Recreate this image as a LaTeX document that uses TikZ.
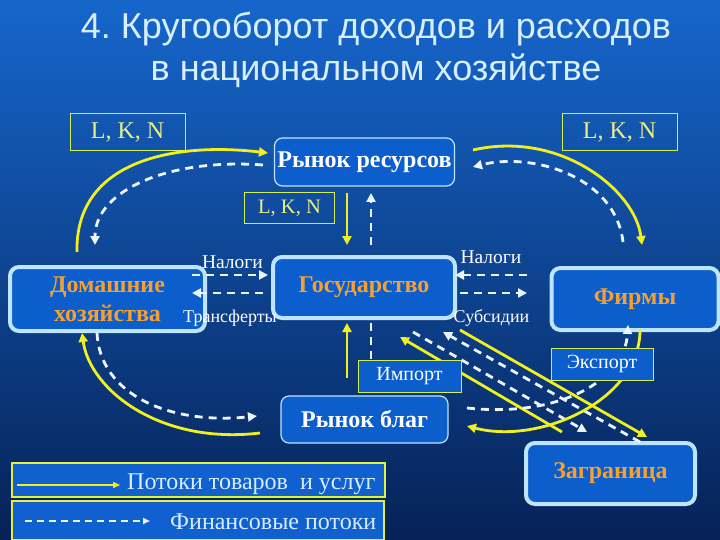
\documentclass[tikz,border=0pt]{standalone}
\usepackage{fontspec}
\setmainfont{Liberation Serif}
\newfontfamily\titlefont{Liberation Sans}
\usetikzlibrary{arrows.meta,calc}
\definecolor{bgtop}{RGB}{22,102,204}
\definecolor{bgmid}{RGB}{12,72,168}
\definecolor{bgbot}{RGB}{6,34,86}
\definecolor{boxfill}{RGB}{12,94,204}
\definecolor{rimcol}{RGB}{190,228,255}
\definecolor{tagline}{RGB}{210,240,80}
\definecolor{flowy}{RGB}{240,240,30}
\definecolor{flowd}{RGB}{235,245,255}
\definecolor{orangetxt}{RGB}{245,160,50}
\definecolor{lkntxt}{RGB}{235,240,130}
\definecolor{titletxt}{RGB}{215,238,255}
\definecolor{legfill}{RGB}{16,96,208}
\definecolor{legline}{RGB}{230,240,60}
\begin{document}
\begin{tikzpicture}[x=1pt,y=-1pt,
  bigbox/.style={draw=rimcol, line width=4pt, fill=boxfill, rounded corners=9pt, inner sep=0pt, outer sep=0pt, align=center, font=\fontsize{24}{29}\selectfont\bfseries, text=orangetxt},
  thinbox/.style={draw=rimcol, line width=1.2pt, fill=boxfill, rounded corners=8pt, inner sep=0pt, outer sep=0pt, font=\fontsize{24}{28}\selectfont\bfseries, text=white},
  tagbox/.style={draw=tagline, line width=1pt, inner sep=0pt, outer sep=0pt, text=lkntxt},
  tradebox/.style={draw=tagline, line width=1pt, fill=boxfill, inner sep=0pt, outer sep=0pt, text=white, font=\fontsize{20}{24}\selectfont},
  flowlabel/.style={text=white, font=\fontsize{18}{22}\selectfont, anchor=base, inner sep=0pt},
  goods/.style={draw=flowy, line width=2.8pt, -{Triangle[length=9pt,width=9pt]}},
  money/.style={draw=flowd, line width=2.8pt, dash pattern=on 8pt off 6pt, -{Triangle[length=9pt,width=9pt]}},
  legbox/.style={draw=legline, line width=2pt, fill=legfill, inner sep=0pt, outer sep=0pt},
  legtext/.style={text=titletxt, font=\fontsize{24}{28}\selectfont, anchor=base west, inner sep=0pt},
  titletext/.style={text=titletxt, font=\titlefont\fontsize{36}{40}\selectfont, anchor=base, inner sep=0pt}
]
\useasboundingbox (0,0) rectangle (720,540);
\shade[top color=bgtop, middle color=bgmid, bottom color=bgbot] (0,0) rectangle (720,540);

% title
\node[titletext] (title1) at (376,39) {4.\ Кругооборот доходов и расходов};
\node[titletext] (title2) at (376,81) {в национальном хозяйстве};

% main boxes
\node[bigbox, minimum width=195pt, minimum height=64pt] (hh) at (107.5,299) {Домашние\\хозяйства};
\node[bigbox, minimum width=182pt, minimum height=61pt] (gov) at (364,287.5) {Государство};
\node[bigbox, minimum width=167pt, minimum height=62pt] (firms) at (635,299) {Фирмы};
\node[bigbox, minimum width=169pt, minimum height=61pt] (abroad) at (610.5,473.5) {Заграница};
\node[thinbox, minimum width=180pt, minimum height=48pt] (rr) at (364.5,162) {Рынок ресурсов};
\node[thinbox, minimum width=167pt, minimum height=47pt] (rb) at (364.5,419.5) {Рынок благ};

% L, K, N tags
\node[tagbox, minimum width=115pt, minimum height=37pt, font=\fontsize{24}{28}\selectfont] (lknA) at (127.5,132.5) {L, K, N};
\node[tagbox, minimum width=115pt, minimum height=37pt, font=\fontsize{24}{28}\selectfont] (lknB) at (619.5,132.5) {L, K, N};
\node[tagbox, minimum width=90pt, minimum height=31pt, font=\fontsize{20.5}{24}\selectfont] (lknC) at (289.5,208.5) {L, K, N};

% households <-> resource market
\draw[goods] ([shift={(-30.5,-15)}]hh.north) .. controls +(-2,-92) and +(-93,-11) .. ([shift={(-6.5,-9)}]rr.west);
\draw[money] ([shift={(-11.5,3)}]rr.west) .. controls +(-93,-7) and +(0,-55) .. ([shift={(-12.5,-22)}]hh.north);
% resource market <-> firms
\draw[goods] ([shift={(18.5,-12)}]rr.east) .. controls +(87,-20) and +(-7,-55) .. ([shift={(7,-23)}]firms.north);
\draw[money] ([shift={(-12,-26)}]firms.north) .. controls +(-8,-67) and +(57,-15) .. ([shift={(18.5,5)}]rr.east);
% resource market <-> government
\draw[goods] ([shift={(-17.5,7)}]rr.south) -- ([shift={(-17,-12)}]gov.north);
\draw[money] ([shift={(7,-12)}]gov.north) -- ([shift={(6.5,7)}]rr.south);
% goods market <-> government
\draw[goods] ([shift={(-17.5,-18)}]rb.north) -- ([shift={(-17,5)}]gov.south);
\draw[money, -] ([shift={(7,5)}]gov.south) -- ([shift={(7,42)}]gov.south);
% taxes / transfers
\draw[money] ([shift={(-13,-24)}]hh.east) -- ([shift={(-5,-12.5)}]gov.west);
\draw[money] ([shift={(-10,5.5)}]gov.west) -- ([shift={(-13,-6)}]hh.east);
\draw[money] ([shift={(-24.5,-24)}]firms.west) -- ([shift={(0,-12.5)}]gov.east);
\draw[money] ([shift={(5,5.5)}]gov.east) -- ([shift={(-24.5,-6)}]firms.west);
% households <-> goods market
\draw[goods] ([shift={(-21,13.5)}]rb.west) .. controls +(-100,12) and +(8,57) .. ([shift={(-25.5,2)}]hh.south);
\draw[money] ([shift={(-10.5,2)}]hh.south) .. controls +(3,62) and +(-87,9) .. ([shift={(-24,-3.5)}]rb.west);
% government / goods market <-> abroad
\draw[goods] ([shift={(5,12)}]gov.south east) -- ([shift={(36.5,-6)}]abroad.north);
\draw[money] ([shift={(49,14)}]gov.south) -- ([shift={(-23.5,-11)}]abroad.north);
\draw[money] ([shift={(29.5,-1)}]abroad.north) -- ([shift={(-12,14)}]gov.south east);
\draw[goods] ([shift={(-48.5,-11)}]abroad.north) -- ([shift={(36,19)}]gov.south);
% export
\draw[goods] ([shift={(5,0)}]firms.south) .. controls +(0,70) and +(73,19) .. ([shift={(19,6.5)}]rb.east);
\draw[money] ([shift={(19,-11.5)}]rb.east) .. controls +(93,10) and +(-3,55) .. ([shift={(-7,-5)}]firms.south);

% export / import tags
\node[tradebox, minimum width=102pt, minimum height=32pt] (export) at (602,364) {Экспорт};
\node[tradebox, minimum width=103pt, minimum height=32pt] (import) at (409.5,376) {Импорт};

% flow labels
\node[flowlabel, font=\fontsize{19.5}{22}\selectfont] (taxL) at (232.5,268) {Налоги};
\node[flowlabel] (transf) at (230,322) {Трансферты};
\node[flowlabel, font=\fontsize{19.5}{22}\selectfont] (taxR) at (491,263) {Налоги};
\node[flowlabel] (subs) at (491.5,322) {Субсидии};

% legend
\node[legbox, minimum width=373pt, minimum height=34pt] (leg1) at (198.5,480) {};
\node[legbox, minimum width=372pt, minimum height=39pt, line width=2.5pt] (leg2) at (198,520.5) {};
\draw[draw=flowy, line width=1.5pt, -{Triangle[length=7pt,width=6pt]}] ([shift={(5,5)}]leg1.west) -- ([shift={(108,5)}]leg1.west);
\draw[draw=flowd, line width=2pt, dash pattern=on 7pt off 5pt, -{Triangle[length=7pt,width=6pt]}] ([shift={(13,0.5)}]leg2.west) -- ([shift={(138,0.5)}]leg2.west);
\node[legtext] (legt1) at (127,489) {Потоки товаров~ и услуг};
\node[legtext] (legt2) at (170,529) {Финансовые потоки};
\end{tikzpicture}
\end{document}
